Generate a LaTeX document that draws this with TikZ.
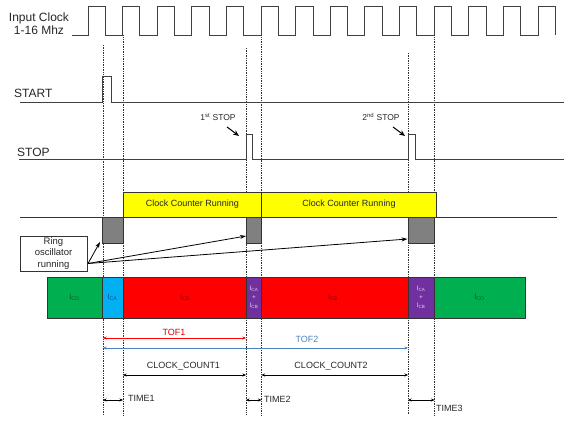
\documentclass[tikz,border=0pt]{standalone}
\usepackage{fontspec}
\setmainfont{Liberation Sans}
\usetikzlibrary{arrows.meta}
\definecolor{cgreen}{HTML}{00B050}
\definecolor{ccyan}{HTML}{00B0F0}
\definecolor{cred}{HTML}{FF0000}
\definecolor{cpurple}{HTML}{7030A0}
\definecolor{cyellow}{HTML}{FFFF00}
\definecolor{cgray}{HTML}{808080}
\definecolor{tofblue}{HTML}{4F81BD}
\definecolor{tgreen}{HTML}{0A5A1E}
\definecolor{tblue}{HTML}{0A4A90}
\definecolor{tred}{HTML}{900000}
\definecolor{tpurple}{HTML}{E0D4F0}
\definecolor{wave}{HTML}{404040}
\begin{document}
\begin{tikzpicture}[x=1pt,y=-1pt,
  big/.style={font=\fontsize{12}{13}\selectfont, text=black!85, inner sep=0pt},
  small/.style={font=\fontsize{9}{10}\selectfont, text=black!85, inner sep=0pt},
  tiny/.style={font=\fontsize{7.5}{8.5}\selectfont, inner sep=0pt, align=center},
  sig/.style={line width=1pt, draw=wave, line join=miter},
  dotline/.style={densely dotted, line width=0.7pt, black!80},
  seg/.style={draw=black!80, line width=0.8pt},
  dim/.style={line width=0.8pt, {Stealth[length=3.5pt,width=3pt]}-{Stealth[length=3.5pt,width=3pt]}},
  callout/.style={line width=1pt, -{Stealth[length=6pt,width=5pt]}},
  ringarrow/.style={line width=0.8pt, -{Stealth[length=6pt,width=4pt]}}]
\useasboundingbox (0,0) rectangle (569,425);

% ---- input clock ----
\node[big, align=center] (clk) at (39,23.5) {Input Clock\\1-16 Mhz};
\draw[sig] (72,35.5) foreach \k in {0,...,13} {
  -- ({88+34.62*\k},35.5) -- ({88+34.62*\k},6.5)
  -- ({105.3+34.62*\k},6.5) -- ({105.3+34.62*\k},35.5) };

% ---- dotted time markers ----
\coordinate (a1) at (103,45);   \coordinate (a1e) at (103,415);
\coordinate (b1) at (123,35.5); \coordinate (b1e) at (123,415);
\coordinate (a2) at (246,48);   \coordinate (a2e) at (246,415);
\coordinate (b2) at (261.5,35.5); \coordinate (b2e) at (261.5,415);
\coordinate (a3) at (408,53);   \coordinate (a3e) at (408,415);
\coordinate (b3) at (434.5,35.5); \coordinate (b3e) at (434.5,415);
\foreach \p in {1,2,3} {
  \draw[dotline] (a\p) -- (a\p e);
  \draw[dotline] (b\p) -- (b\p e);
}

% ---- START ----
\node[big, anchor=base west] (start) at (14,97) {START};
\draw[sig, line width=0.9pt] (20,102) -- (102,102) -- (102,76) -- (111,76) -- (111,102) -- (564,102);

% ---- STOP ----
\node[big, anchor=base west] (stop) at (17,156) {STOP};
\draw[sig, line width=0.9pt] (19,159) -- (246,159) -- (246,134) -- (252.5,134) -- (252.5,159)
  -- (408,159) -- (408,134) -- (415,134) -- (415,159) -- (564,159);
\node[small, font=\fontsize{8.5}{9}\selectfont] (stop1) at (218,117) {1\textsuperscript{st} STOP};
\node[small, font=\fontsize{8.5}{9}\selectfont] (stop2) at (381,117) {2\textsuperscript{nd} STOP};
\coordinate (s1a) at (227,127); \coordinate (s1b) at (239,136);
\coordinate (s2a) at (393,127); \coordinate (s2b) at (405,136);
\draw[callout] (s1a) -- (s1b);
\draw[callout] (s2a) -- (s2b);

% ---- clock counter ----
\draw[fill=cyellow, draw=black!80, line width=0.6pt] (123,192) rectangle (261.5,217.5);
\draw[fill=cyellow, draw=black!80, line width=0.6pt] (261.5,192) rectangle (436.5,217.5);
\node[small] (cc1) at (192.5,204.5) {Clock Counter Running};
\node[small] (cc2) at (349,204.5) {Clock Counter Running};
\draw[line width=1.1pt, black!80] (20,217.5) -- (557,217.5);

% ---- ring oscillator ----
\draw[fill=cgray, seg] (102,217.5) rectangle (123,243);
\draw[fill=cgray, seg] (246,217.5) rectangle (261.5,243);
\draw[fill=cgray, seg] (408,217.5) rectangle (434.5,243);
\node[draw=black!80, line width=0.8pt, align=center, minimum width=67pt, minimum height=35pt,
      inner sep=1pt, font=\fontsize{9.5}{11.5}\selectfont, text=black!85] (ring) at (53.5,253.5)
      {Ring\\oscillator\\running};
\coordinate (r0) at (88,263.5);
\coordinate (g1) at (100,242);
\coordinate (g2) at (246,236);
\coordinate (g3) at (407.5,239);
\draw[ringarrow] (r0) -- (g1);
\draw[ringarrow] (r0) -- (g2);
\draw[ringarrow] (r0) -- (g3);

% ---- supply current bar ----
\draw[fill=cgreen, seg] (47,277) rectangle (102,318);
\draw[fill=ccyan, seg] (102,277) rectangle (123,318);
\draw[fill=cred, seg] (123,277) rectangle (246,318);
\draw[fill=cpurple, seg] (246,277) rectangle (261.5,318);
\draw[fill=cred, seg] (261.5,277) rectangle (408,318);
\draw[fill=cpurple, seg] (408,277) rectangle (434.5,318);
\draw[fill=cgreen, seg] (434.5,277) rectangle (525,318);
\node[tiny, text=tgreen] (ico1) at (74.5,297.5) {I\textsubscript{CO}};
\node[tiny, text=tblue] (ica) at (112.5,297.5) {I\textsubscript{CA}};
\node[tiny, text=tred] (icb1) at (185,297.5) {I\textsubscript{CB}};
\node[tiny, text=tpurple, font=\fontsize{6.5}{8.5}\selectfont] (icab1) at (254,297.5) {I\textsubscript{CA}\\+\\I\textsubscript{CB}};
\node[tiny, text=tred] (icb2) at (333,297.5) {I\textsubscript{CB}};
\node[tiny, text=tpurple, font=\fontsize{6.5}{8.5}\selectfont] (icab2) at (421,297.5) {I\textsubscript{CA}\\+\\I\textsubscript{CB}};
\node[tiny, text=tgreen] (ico2) at (479.5,297.5) {I\textsubscript{CO}};

% ---- measurements ----
\coordinate (t1l) at (103,338); \coordinate (t1r) at (246,338);
\draw[dim, cred] (t1l) -- (t1r);
\node[small, text=cred!85!black] (tof1) at (174,332) {TOF1};
\coordinate (t2l) at (103,348); \coordinate (t2r) at (408,348);
\draw[dim, tofblue] (t2l) -- (t2r);
\node[small, text=tofblue] (tof2) at (307,339) {TOF2};

\coordinate (c1l) at (123,375); \coordinate (c1r) at (246,375);
\draw[dim] (c1l) -- (c1r);
\node[small] (cnt1) at (183.5,366.5) {CLOCK\_COUNT1};
\coordinate (c2l) at (261.5,375); \coordinate (c2r) at (408,375);
\draw[dim] (c2l) -- (c2r);
\node[small] (cnt2) at (331,366.5) {CLOCK\_COUNT2};

\coordinate (m1l) at (103,400); \coordinate (m1r) at (123,400);
\draw[dim] (m1l) -- (m1r);
\node[small, anchor=west] (time1) at (128,398.5) {TIME1};
\coordinate (m2l) at (246,400); \coordinate (m2r) at (261.5,400);
\draw[dim] (m2l) -- (m2r);
\node[small, anchor=west] (time2) at (264,399.5) {TIME2};
\coordinate (m3l) at (408,400); \coordinate (m3r) at (434.5,400);
\draw[dim] (m3l) -- (m3r);
\node[small, anchor=west] (time3) at (436,408) {TIME3};
\end{tikzpicture}
\end{document}
